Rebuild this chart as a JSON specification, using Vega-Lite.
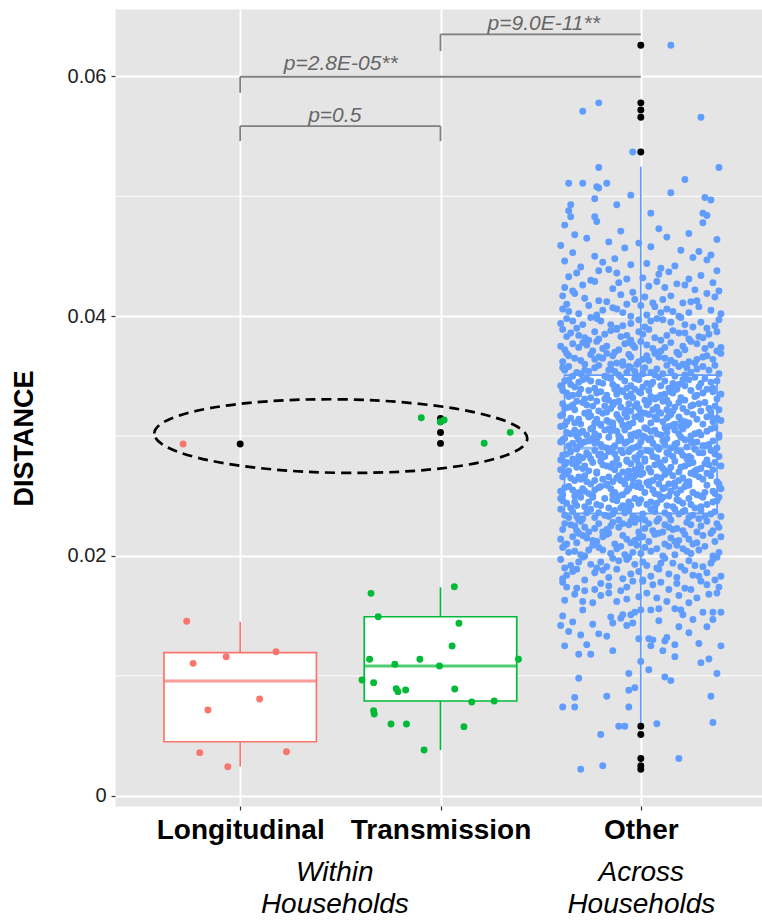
{
"$schema":"https://vega.github.io/schema/vega-lite/v6.json",
"width":647,"height":797,
"autosize":{"type":"none"},
"padding":{"left":115,"top":9,"right":0,"bottom":114},
"config":{"font":"Liberation Sans","view":{"fill":"#E5E5E5","stroke":"transparent"}},
"resolve":{"axis":{"x":"independent"}},
"datasets":{
"box":[{"g":"Longitudinal","x":1,"lo":0.00242,"q1":0.0045,"med":0.00957,"q3":0.01193,"hi":0.01451},{"g":"Transmission","x":2,"lo":0.00381,"q1":0.0079,"med":0.01082,"q3":0.01493,"hi":0.01738},{"g":"Other","x":3,"lo":0.00606,"q1":0.02356,"med":0.02898,"q3":0.03509,"hi":0.05247}],
"minor":[{"v":0.01},{"v":0.03},{"v":0.05}],
"out":[{"x":1,"y":0.02934},{"x":2,"y":0.03147},{"x":2,"y":0.0312},{"x":2,"y":0.03134},{"x":2,"y":0.0303},{"x":2,"y":0.02939},{"x":3,"y":0.0626},{"x":3,"y":0.0578},{"x":3,"y":0.0572},{"x":3,"y":0.0566},{"x":3,"y":0.0537},{"x":3,"y":0.0058},{"x":3,"y":0.0051},{"x":3,"y":0.0031},{"x":3,"y":0.0025},{"x":3,"y":0.0022}],
"wh":[{"g":"Longitudinal","x":0.733,"y":0.01455},{"g":"Longitudinal","x":0.765,"y":0.01104},{"g":"Longitudinal","x":0.93,"y":0.0116},{"g":"Longitudinal","x":1.179,"y":0.01201},{"g":"Longitudinal","x":1.097,"y":0.00807},{"g":"Longitudinal","x":0.839,"y":0.00715},{"g":"Longitudinal","x":0.798,"y":0.00359},{"g":"Longitudinal","x":1.231,"y":0.00367},{"g":"Longitudinal","x":0.938,"y":0.00242},{"g":"Longitudinal","x":0.715,"y":0.02934},
{"g":"Transmission","x":2.069,"y":0.01743},{"g":"Transmission","x":1.653,"y":0.01688},{"g":"Transmission","x":1.689,"y":0.01493},{"g":"Transmission","x":2.092,"y":0.01438},{"g":"Transmission","x":2.058,"y":0.01249},{"g":"Transmission","x":1.646,"y":0.01138},{"g":"Transmission","x":1.772,"y":0.01096},{"g":"Transmission","x":1.897,"y":0.01138},{"g":"Transmission","x":1.995,"y":0.01082},{"g":"Transmission","x":2.389,"y":0.01138},{"g":"Transmission","x":1.608,"y":0.00965},{"g":"Transmission","x":1.666,"y":0.00943},{"g":"Transmission","x":1.779,"y":0.00893},{"g":"Transmission","x":1.788,"y":0.00868},{"g":"Transmission","x":1.826,"y":0.00882},{"g":"Transmission","x":2.071,"y":0.0089},{"g":"Transmission","x":2.156,"y":0.00782},{"g":"Transmission","x":2.268,"y":0.0079},{"g":"Transmission","x":1.666,"y":0.00709},{"g":"Transmission","x":1.669,"y":0.00682},{"g":"Transmission","x":1.753,"y":0.00598},{"g":"Transmission","x":1.83,"y":0.00598},{"g":"Transmission","x":2.117,"y":0.00576},{"g":"Transmission","x":1.918,"y":0.00381},{"g":"Transmission","x":1.904,"y":0.03153},{"g":"Transmission","x":1.999,"y":0.0312},{"g":"Transmission","x":2.018,"y":0.03134},{"g":"Transmission","x":2.348,"y":0.03031},{"g":"Transmission","x":2.218,"y":0.0294}],
"oth":[
{"x":2.69,"y":0.0118},{"x":2.75,"y":0.0118},{"x":3.0,"y":0.0112},{"x":3.04,"y":0.0105},{"x":2.94,"y":0.0102},{"x":2.69,"y":0.0098},{"x":3.12,"y":0.0099},{"x":3.15,"y":0.0096},{"x":2.97,"y":0.009},{"x":2.94,"y":0.0088},{"x":2.83,"y":0.0083},{"x":2.67,"y":0.0082},{"x":2.61,"y":0.0074},{"x":2.67,"y":0.0074},{"x":2.94,"y":0.0074},{"x":3.35,"y":0.0083},{"x":3.38,"y":0.0102},{"x":3.34,"y":0.0114},{"x":3.3,"y":0.0111},{"x":2.89,"y":0.0058},{"x":2.92,"y":0.0058},{"x":3.08,"y":0.006},{"x":3.36,"y":0.0061},{"x":2.8,"y":0.0051},{"x":3.19,"y":0.0031},{"x":2.7,"y":0.0022},{"x":2.81,"y":0.0025},{"x":3.17,"y":0.0116},
{"x":2.62,"y":0.0125},{"x":2.73,"y":0.0126},{"x":2.86,"y":0.0121},{"x":3.05,"y":0.0125},{"x":3.11,"y":0.0121},{"x":3.17,"y":0.0126},{"x":3.29,"y":0.0127},{"x":3.4,"y":0.0125},
{"x":2.7,"y":0.0134},{"x":2.79,"y":0.0135},{"x":2.83,"y":0.0133},{"x":2.99,"y":0.0131},{"x":3.04,"y":0.0131},{"x":3.06,"y":0.013},{"x":3.12,"y":0.0129},{"x":3.13,"y":0.0132},{"x":2.64,"y":0.0137},{"x":3.24,"y":0.0136},
{"x":2.6,"y":0.0142},{"x":2.66,"y":0.0145},{"x":2.76,"y":0.0143},{"x":2.86,"y":0.0144},{"x":2.93,"y":0.0142},{"x":2.96,"y":0.0144},{"x":3.26,"y":0.0147},{"x":3.33,"y":0.0141},{"x":3.36,"y":0.0147},{"x":2.9,"y":0.0148},{"x":3.09,"y":0.0146},{"x":3.19,"y":0.0141},
{"x":2.61,"y":0.015},{"x":2.71,"y":0.0155},{"x":2.85,"y":0.0149},{"x":2.91,"y":0.0151},{"x":2.95,"y":0.0151},{"x":2.97,"y":0.0153},{"x":3.0,"y":0.0155},{"x":3.05,"y":0.0155},{"x":3.09,"y":0.0156},{"x":3.17,"y":0.0156},{"x":3.2,"y":0.0155},{"x":3.21,"y":0.0151},{"x":3.31,"y":0.0153},{"x":3.36,"y":0.0153},{"x":3.4,"y":0.0153},
{"x":2.71,"y":0.0162},{"x":2.88,"y":0.0162},{"x":3.08,"y":0.0165},{"x":2.62,"y":0.0163},{"x":2.67,"y":0.0168},{"x":2.76,"y":0.0161},{"x":2.8,"y":0.0167},{"x":2.84,"y":0.0169},{"x":2.93,"y":0.0164},{"x":2.99,"y":0.0166},{"x":3.03,"y":0.0169},{"x":3.13,"y":0.0162},{"x":3.19,"y":0.0167},{"x":3.24,"y":0.0161},{"x":3.28,"y":0.0165},{"x":3.34,"y":0.0168},{"x":3.38,"y":0.0169},
{"x":2.77,"y":0.0172},{"x":3.18,"y":0.0177},{"x":2.63,"y":0.0174},{"x":3.01,"y":0.0179},{"x":2.9,"y":0.0171},{"x":3.33,"y":0.0176},{"x":2.68,"y":0.0173},{"x":3.1,"y":0.0178},{"x":2.84,"y":0.0175},{"x":3.25,"y":0.0172},{"x":2.96,"y":0.0179},{"x":2.72,"y":0.0171},{"x":3.39,"y":0.0174},{"x":3.06,"y":0.0176},{"x":2.61,"y":0.0178},{"x":3.22,"y":0.0173},{"x":2.8,"y":0.0177},{"x":2.93,"y":0.0174},{"x":3.14,"y":0.0172},{"x":3.3,"y":0.0179},
{"x":2.63,"y":0.0184},{"x":2.91,"y":0.0181},{"x":3.22,"y":0.0188},{"x":2.77,"y":0.0186},{"x":3.05,"y":0.0183},{"x":3.37,"y":0.018},{"x":2.68,"y":0.0189},{"x":2.84,"y":0.0182},{"x":3.14,"y":0.0185},{"x":2.99,"y":0.0187},{"x":3.29,"y":0.0183},{"x":2.61,"y":0.0181},{"x":3.09,"y":0.0189},{"x":2.72,"y":0.018},{"x":3.33,"y":0.0186},{"x":2.95,"y":0.0185},{"x":3.18,"y":0.0182},{"x":2.81,"y":0.0188},{"x":3.01,"y":0.018},{"x":2.66,"y":0.0187},{"x":3.26,"y":0.0184},{"x":2.88,"y":0.0189},{"x":3.4,"y":0.0183},
{"x":3.03,"y":0.0192},{"x":2.69,"y":0.0195},{"x":3.31,"y":0.0191},{"x":2.86,"y":0.0198},{"x":3.16,"y":0.0194},{"x":2.62,"y":0.019},{"x":2.93,"y":0.0197},{"x":3.24,"y":0.0196},{"x":2.75,"y":0.0193},{"x":3.38,"y":0.0199},{"x":3.08,"y":0.019},{"x":2.8,"y":0.0195},{"x":3.12,"y":0.0198},{"x":2.65,"y":0.0192},{"x":2.97,"y":0.0193},{"x":3.35,"y":0.0194},{"x":2.71,"y":0.0199},{"x":3.2,"y":0.0191},{"x":2.89,"y":0.0196},{"x":3.01,"y":0.0195},{"x":2.6,"y":0.0197},{"x":3.27,"y":0.0192},{"x":2.78,"y":0.019},{"x":3.1,"y":0.0194},{"x":2.83,"y":0.0191},{"x":3.36,"y":0.0197},{"x":2.94,"y":0.0199},
{"x":2.64,"y":0.0203},{"x":3.17,"y":0.0201},{"x":2.88,"y":0.0206},{"x":3.32,"y":0.0208},{"x":2.72,"y":0.02},{"x":3.05,"y":0.0204},{"x":2.98,"y":0.0209},{"x":3.25,"y":0.0202},{"x":2.61,"y":0.0207},{"x":2.81,"y":0.0205},{"x":3.11,"y":0.02},{"x":3.39,"y":0.0203},{"x":2.76,"y":0.0209},{"x":2.92,"y":0.0201},{"x":3.21,"y":0.0206},{"x":2.67,"y":0.0204},{"x":3.02,"y":0.0207},{"x":3.29,"y":0.0205},{"x":2.85,"y":0.0202},{"x":3.14,"y":0.0208},{"x":2.7,"y":0.0201},{"x":2.96,"y":0.0203},{"x":3.36,"y":0.02},{"x":2.79,"y":0.0207},{"x":3.08,"y":0.0206},{"x":2.62,"y":0.0209},{"x":3.23,"y":0.0204},{"x":2.9,"y":0.0208},{"x":3.0,"y":0.0202},{"x":2.74,"y":0.0205},{"x":3.18,"y":0.0209},
{"x":2.97,"y":0.0213},{"x":2.66,"y":0.0216},{"x":3.28,"y":0.0211},{"x":2.83,"y":0.0218},{"x":3.12,"y":0.021},{"x":2.6,"y":0.0214},{"x":3.35,"y":0.0219},{"x":2.91,"y":0.0217},{"x":3.04,"y":0.0212},{"x":2.73,"y":0.0215},{"x":3.19,"y":0.0213},{"x":2.87,"y":0.021},{"x":3.4,"y":0.0216},{"x":2.69,"y":0.0219},{"x":3.07,"y":0.0218},{"x":3.24,"y":0.0214},{"x":2.78,"y":0.0212},{"x":2.95,"y":0.0211},{"x":3.31,"y":0.0217},{"x":2.63,"y":0.021},{"x":3.15,"y":0.0215},{"x":2.84,"y":0.0219},{"x":3.01,"y":0.0216},{"x":2.76,"y":0.0213},{"x":3.22,"y":0.0218},{"x":2.93,"y":0.0214},{"x":3.37,"y":0.0212},{"x":2.68,"y":0.0211},{"x":3.09,"y":0.0219},{"x":2.81,"y":0.0216},{"x":3.26,"y":0.021},{"x":2.99,"y":0.0215},{"x":2.71,"y":0.0217},{"x":3.17,"y":0.0212},
{"x":3.06,"y":0.0221},{"x":2.62,"y":0.0227},{"x":2.89,"y":0.0224},{"x":3.33,"y":0.0229},{"x":2.74,"y":0.022},{"x":3.18,"y":0.0223},{"x":2.97,"y":0.0228},{"x":2.67,"y":0.0225},{"x":3.25,"y":0.0226},{"x":2.83,"y":0.0222},{"x":3.11,"y":0.022},{"x":3.39,"y":0.0224},{"x":2.7,"y":0.0229},{"x":2.94,"y":0.0226},{"x":3.02,"y":0.0223},{"x":2.79,"y":0.0227},{"x":3.21,"y":0.0221},{"x":2.61,"y":0.0222},{"x":3.3,"y":0.0225},{"x":2.86,"y":0.0228},{"x":3.14,"y":0.0224},{"x":2.99,"y":0.022},{"x":2.65,"y":0.0226},{"x":3.08,"y":0.0229},{"x":3.36,"y":0.0221},{"x":2.77,"y":0.0223},{"x":2.91,"y":0.0227},{"x":3.23,"y":0.0228},{"x":2.72,"y":0.0224},{"x":3.16,"y":0.0222},{"x":2.85,"y":0.0225},{"x":3.04,"y":0.0227},{"x":2.68,"y":0.0221},{"x":3.28,"y":0.022},{"x":2.95,"y":0.0229},{"x":3.12,"y":0.0226},{"x":2.81,"y":0.022},{"x":3.38,"y":0.0227},
{"x":2.64,"y":0.0232},{"x":3.01,"y":0.0235},{"x":3.29,"y":0.0231},{"x":2.87,"y":0.0238},{"x":2.73,"y":0.0236},{"x":3.15,"y":0.023},{"x":2.96,"y":0.0233},{"x":3.37,"y":0.0237},{"x":2.6,"y":0.0239},{"x":3.09,"y":0.0231},{"x":2.82,"y":0.0234},{"x":3.22,"y":0.0238},{"x":2.69,"y":0.023},{"x":2.92,"y":0.0236},{"x":3.32,"y":0.0233},{"x":3.05,"y":0.0239},{"x":2.77,"y":0.0232},{"x":3.19,"y":0.0235},{"x":2.89,"y":0.023},{"x":2.66,"y":0.0237},{"x":3.26,"y":0.0234},{"x":3.12,"y":0.0236},{"x":2.99,"y":0.0231},{"x":2.75,"y":0.0239},{"x":3.35,"y":0.0235},{"x":2.84,"y":0.0233},{"x":3.07,"y":0.0237},{"x":2.62,"y":0.0234},{"x":3.24,"y":0.0232},{"x":2.94,"y":0.0238},{"x":3.17,"y":0.0239},{"x":2.71,"y":0.0231},{"x":3.02,"y":0.023},{"x":2.86,"y":0.0235},{"x":3.4,"y":0.0233},{"x":2.79,"y":0.0236},{"x":3.14,"y":0.0234},{"x":2.97,"y":0.0232},{"x":3.3,"y":0.0238},{"x":2.68,"y":0.0233},{"x":3.21,"y":0.0237},
{"x":2.61,"y":0.0246},{"x":2.93,"y":0.0241},{"x":3.24,"y":0.0248},{"x":2.78,"y":0.0243},{"x":3.07,"y":0.024},{"x":3.36,"y":0.0245},{"x":2.7,"y":0.0249},{"x":3.13,"y":0.0242},{"x":2.86,"y":0.0247},{"x":2.99,"y":0.0244},{"x":3.3,"y":0.0241},{"x":2.65,"y":0.024},{"x":3.19,"y":0.0246},{"x":2.82,"y":0.0248},{"x":3.03,"y":0.0243},{"x":2.74,"y":0.0245},{"x":3.39,"y":0.0249},{"x":2.91,"y":0.0242},{"x":3.1,"y":0.0247},{"x":2.63,"y":0.0244},{"x":3.27,"y":0.024},{"x":2.88,"y":0.0246},{"x":3.16,"y":0.0241},{"x":2.76,"y":0.0249},{"x":3.05,"y":0.0245},{"x":2.97,"y":0.0248},{"x":3.33,"y":0.0243},{"x":2.68,"y":0.0242},{"x":3.21,"y":0.0244},{"x":2.84,"y":0.024},{"x":3.0,"y":0.0247},{"x":2.72,"y":0.0241},{"x":3.11,"y":0.0249},{"x":2.94,"y":0.0245},{"x":3.38,"y":0.0246},{"x":2.8,"y":0.0242},{"x":3.25,"y":0.0243},{"x":2.6,"y":0.0248},{"x":3.08,"y":0.0244},{"x":2.9,"y":0.024},{"x":3.18,"y":0.0247},{"x":2.67,"y":0.0245},{"x":3.31,"y":0.0249},{"x":2.95,"y":0.0242},
{"x":3.02,"y":0.0253},{"x":2.64,"y":0.0258},{"x":3.28,"y":0.0251},{"x":2.85,"y":0.0256},{"x":3.14,"y":0.025},{"x":2.72,"y":0.0254},{"x":2.96,"y":0.0259},{"x":3.37,"y":0.0252},{"x":2.79,"y":0.0257},{"x":3.06,"y":0.0255},{"x":2.61,"y":0.0251},{"x":3.22,"y":0.0258},{"x":2.89,"y":0.025},{"x":3.11,"y":0.0256},{"x":2.69,"y":0.0253},{"x":3.33,"y":0.0259},{"x":2.93,"y":0.0254},{"x":3.18,"y":0.0252},{"x":2.76,"y":0.025},{"x":3.0,"y":0.0257},{"x":2.66,"y":0.0255},{"x":3.26,"y":0.0253},{"x":2.83,"y":0.0259},{"x":3.09,"y":0.0251},{"x":3.4,"y":0.0256},{"x":2.74,"y":0.0252},{"x":2.98,"y":0.0258},{"x":3.15,"y":0.0254},{"x":2.62,"y":0.0257},{"x":3.3,"y":0.025},{"x":2.87,"y":0.0253},{"x":3.04,"y":0.0259},{"x":2.71,"y":0.0256},{"x":3.2,"y":0.0255},{"x":2.91,"y":0.0251},{"x":3.36,"y":0.0254},{"x":2.8,"y":0.0258},{"x":3.12,"y":0.0257},{"x":2.67,"y":0.025},{"x":3.24,"y":0.0259},{"x":2.94,"y":0.0256},{"x":3.07,"y":0.0252},{"x":2.77,"y":0.0255},{"x":3.32,"y":0.0253},{"x":2.86,"y":0.0251},{"x":3.17,"y":0.0258},{"x":2.6,"y":0.0254},
{"x":2.73,"y":0.0262},{"x":3.1,"y":0.0265},{"x":2.92,"y":0.026},{"x":3.35,"y":0.0267},{"x":2.63,"y":0.0269},{"x":3.19,"y":0.0263},{"x":2.84,"y":0.0266},{"x":3.03,"y":0.0261},{"x":3.27,"y":0.0268},{"x":2.7,"y":0.0264},{"x":2.97,"y":0.0267},{"x":3.14,"y":0.026},{"x":2.78,"y":0.0269},{"x":3.38,"y":0.0262},{"x":2.88,"y":0.0265},{"x":3.06,"y":0.0263},{"x":2.61,"y":0.0266},{"x":3.23,"y":0.0261},{"x":2.94,"y":0.0268},{"x":2.75,"y":0.026},{"x":3.31,"y":0.0264},{"x":3.01,"y":0.0269},{"x":2.67,"y":0.0263},{"x":3.16,"y":0.0267},{"x":2.86,"y":0.0262},{"x":3.08,"y":0.0266},{"x":2.81,"y":0.0264},{"x":3.25,"y":0.0269},{"x":2.99,"y":0.0261},{"x":2.65,"y":0.0265},{"x":3.12,"y":0.0268},{"x":3.39,"y":0.026},{"x":2.9,"y":0.0263},{"x":2.72,"y":0.0267},{"x":3.21,"y":0.0265},{"x":3.04,"y":0.0262},{"x":2.83,"y":0.026},{"x":3.29,"y":0.0266},{"x":2.96,"y":0.0264},{"x":2.62,"y":0.0268},{"x":3.17,"y":0.0261},{"x":2.77,"y":0.0263},{"x":3.33,"y":0.0269},{"x":2.89,"y":0.0267},{"x":3.09,"y":0.026},{"x":2.69,"y":0.0266},{"x":3.24,"y":0.0262},{"x":2.93,"y":0.0265},{"x":3.0,"y":0.0268},
{"x":2.68,"y":0.0274},{"x":3.13,"y":0.0271},{"x":2.95,"y":0.0277},{"x":3.3,"y":0.0273},{"x":2.8,"y":0.0279},{"x":3.05,"y":0.027},{"x":2.62,"y":0.0276},{"x":3.22,"y":0.0275},{"x":2.87,"y":0.0272},{"x":3.37,"y":0.0278},{"x":2.74,"y":0.0271},{"x":3.0,"y":0.0274},{"x":3.17,"y":0.0279},{"x":2.91,"y":0.027},{"x":2.66,"y":0.0277},{"x":3.28,"y":0.0272},{"x":2.83,"y":0.0275},{"x":3.09,"y":0.0278},{"x":2.71,"y":0.0273},{"x":3.34,"y":0.0276},{"x":2.98,"y":0.0271},{"x":3.15,"y":0.0274},{"x":2.78,"y":0.027},{"x":3.02,"y":0.0279},{"x":2.6,"y":0.0272},{"x":3.24,"y":0.0277},{"x":2.89,"y":0.0276},{"x":3.11,"y":0.0273},{"x":2.76,"y":0.0278},{"x":3.4,"y":0.0275},{"x":2.93,"y":0.0279},{"x":3.19,"y":0.027},{"x":2.64,"y":0.0271},{"x":3.07,"y":0.0276},{"x":2.85,"y":0.0274},{"x":3.32,"y":0.0277},{"x":2.72,"y":0.0275},{"x":2.97,"y":0.0272},{"x":3.26,"y":0.0278},{"x":3.04,"y":0.0273},{"x":2.81,"y":0.0276},{"x":3.14,"y":0.027},{"x":2.69,"y":0.0279},{"x":3.2,"y":0.0274},{"x":2.94,"y":0.0271},{"x":3.36,"y":0.0272},{"x":2.86,"y":0.0277},{"x":3.1,"y":0.0275},{"x":2.63,"y":0.0278},{"x":2.99,"y":0.0276},{"x":3.27,"y":0.0271},
{"x":3.06,"y":0.0283},{"x":2.73,"y":0.0286},{"x":3.23,"y":0.0281},{"x":2.9,"y":0.0288},{"x":2.61,"y":0.0284},{"x":3.33,"y":0.028},{"x":2.84,"y":0.0287},{"x":3.14,"y":0.0285},{"x":2.97,"y":0.0282},{"x":2.68,"y":0.0289},{"x":3.29,"y":0.0286},{"x":3.02,"y":0.0281},{"x":2.79,"y":0.0284},{"x":3.18,"y":0.0288},{"x":2.93,"y":0.028},{"x":3.39,"y":0.0283},{"x":2.65,"y":0.0287},{"x":3.09,"y":0.0289},{"x":2.87,"y":0.0285},{"x":3.25,"y":0.0282},{"x":2.75,"y":0.0281},{"x":3.0,"y":0.0286},{"x":3.35,"y":0.0288},{"x":2.82,"y":0.0283},{"x":3.12,"y":0.028},{"x":2.63,"y":0.0285},{"x":2.95,"y":0.0289},{"x":3.21,"y":0.0284},{"x":2.71,"y":0.0282},{"x":3.05,"y":0.0287},{"x":3.31,"y":0.0286},{"x":2.88,"y":0.0281},{"x":3.16,"y":0.0283},{"x":2.77,"y":0.0288},{"x":2.99,"y":0.0284},{"x":2.6,"y":0.028},{"x":3.27,"y":0.0289},{"x":2.91,"y":0.0286},{"x":3.08,"y":0.0282},{"x":2.69,"y":0.0283},{"x":3.2,"y":0.0287},{"x":2.85,"y":0.0289},{"x":3.37,"y":0.0285},{"x":2.98,"y":0.028},{"x":2.74,"y":0.0284},{"x":3.13,"y":0.0286},{"x":2.66,"y":0.0281},{"x":3.03,"y":0.0288},{"x":3.24,"y":0.0283},{"x":2.8,"y":0.0285},{"x":2.94,"y":0.0287},
{"x":2.64,"y":0.0292},{"x":3.04,"y":0.0297},{"x":3.26,"y":0.0294},{"x":2.86,"y":0.029},{"x":3.13,"y":0.0298},{"x":2.72,"y":0.0295},{"x":2.98,"y":0.0291},{"x":3.36,"y":0.0296},{"x":2.8,"y":0.0293},{"x":3.2,"y":0.0299},{"x":2.61,"y":0.0297},{"x":2.92,"y":0.0294},{"x":3.09,"y":0.029},{"x":3.31,"y":0.0292},{"x":2.76,"y":0.0298},{"x":3.0,"y":0.0295},{"x":2.68,"y":0.0291},{"x":3.17,"y":0.0293},{"x":2.89,"y":0.0296},{"x":3.39,"y":0.0299},{"x":2.83,"y":0.029},{"x":3.06,"y":0.0294},{"x":2.95,"y":0.0297},{"x":3.23,"y":0.0291},{"x":2.7,"y":0.0293},{"x":3.11,"y":0.0296},{"x":2.62,"y":0.0298},{"x":3.28,"y":0.0295},{"x":2.87,"y":0.0292},{"x":3.02,"y":0.0299},{"x":2.78,"y":0.0297},{"x":3.15,"y":0.029},{"x":2.93,"y":0.0295},{"x":3.34,"y":0.0293},{"x":2.66,"y":0.0294},{"x":3.08,"y":0.0291},{"x":2.84,"y":0.0299},{"x":3.22,"y":0.0297},{"x":2.99,"y":0.0292},{"x":2.74,"y":0.0296},{"x":3.18,"y":0.0294},{"x":3.38,"y":0.029},{"x":2.9,"y":0.0298},{"x":2.6,"y":0.0295},{"x":3.12,"y":0.0293},{"x":2.81,"y":0.0291},{"x":3.25,"y":0.0296},{"x":2.96,"y":0.029},{"x":3.05,"y":0.0298},{"x":2.69,"y":0.0297},{"x":3.32,"y":0.0292},{"x":2.77,"y":0.0294},
{"x":3.1,"y":0.0301},{"x":2.67,"y":0.0305},{"x":2.94,"y":0.0308},{"x":3.29,"y":0.0303},{"x":2.79,"y":0.03},{"x":3.03,"y":0.0306},{"x":2.62,"y":0.0309},{"x":3.19,"y":0.0302},{"x":2.88,"y":0.0304},{"x":3.37,"y":0.0307},{"x":2.73,"y":0.0301},{"x":2.99,"y":0.0303},{"x":3.14,"y":0.0308},{"x":2.84,"y":0.0306},{"x":3.25,"y":0.03},{"x":2.65,"y":0.0302},{"x":3.07,"y":0.0305},{"x":2.91,"y":0.0309},{"x":3.33,"y":0.0304},{"x":2.76,"y":0.0307},{"x":3.01,"y":0.03},{"x":3.21,"y":0.0306},{"x":2.7,"y":0.0303},{"x":2.97,"y":0.0302},{"x":3.16,"y":0.0309},{"x":2.82,"y":0.0305},{"x":3.39,"y":0.0301},{"x":2.6,"y":0.0308},{"x":3.05,"y":0.0304},{"x":2.89,"y":0.03},{"x":3.27,"y":0.0302},{"x":2.75,"y":0.0306},{"x":3.12,"y":0.0307},{"x":2.95,"y":0.0301},{"x":2.63,"y":0.0303},{"x":3.23,"y":0.0309},{"x":2.86,"y":0.0308},{"x":3.08,"y":0.0302},{"x":2.71,"y":0.0304},{"x":3.35,"y":0.0306},{"x":2.98,"y":0.03},{"x":3.17,"y":0.0305},{"x":2.8,"y":0.0309},{"x":3.02,"y":0.0307},{"x":2.68,"y":0.03},{"x":3.3,"y":0.0301},{"x":2.92,"y":0.0305},{"x":3.13,"y":0.0303},{"x":2.77,"y":0.0302},{"x":3.2,"y":0.0308},{"x":2.85,"y":0.0304},
{"x":2.63,"y":0.0312},{"x":2.97,"y":0.0316},{"x":3.24,"y":0.0311},{"x":2.81,"y":0.0319},{"x":3.08,"y":0.0314},{"x":2.7,"y":0.031},{"x":3.35,"y":0.0317},{"x":2.9,"y":0.0313},{"x":3.15,"y":0.0318},{"x":2.65,"y":0.0315},{"x":3.02,"y":0.0319},{"x":2.86,"y":0.0311},{"x":3.28,"y":0.0314},{"x":2.75,"y":0.0317},{"x":3.11,"y":0.0312},{"x":2.94,"y":0.031},{"x":3.38,"y":0.0315},{"x":2.61,"y":0.0318},{"x":3.19,"y":0.0316},{"x":2.83,"y":0.0313},{"x":3.05,"y":0.0311},{"x":2.72,"y":0.0319},{"x":3.31,"y":0.031},{"x":2.99,"y":0.0317},{"x":3.13,"y":0.0315},{"x":2.78,"y":0.0314},{"x":3.22,"y":0.0312},{"x":2.88,"y":0.0318},{"x":2.67,"y":0.0311},{"x":3.07,"y":0.0316},{"x":3.4,"y":0.0313},{"x":2.92,"y":0.0319},{"x":3.17,"y":0.031},{"x":2.74,"y":0.0316},{"x":3.0,"y":0.0314},{"x":3.26,"y":0.0318},{"x":2.84,"y":0.0312},{"x":2.6,"y":0.0317},{"x":3.1,"y":0.0319},{"x":2.96,"y":0.0311},{"x":3.33,"y":0.0316},{"x":2.8,"y":0.031},{"x":3.2,"y":0.0313},{"x":2.69,"y":0.0314},{"x":3.04,"y":0.0318},{"x":2.89,"y":0.0315},{"x":3.36,"y":0.0312},{"x":2.77,"y":0.0311},{"x":3.14,"y":0.0317},{"x":2.93,"y":0.0316},
{"x":3.06,"y":0.0322},{"x":2.66,"y":0.0326},{"x":3.3,"y":0.0321},{"x":2.87,"y":0.0328},{"x":3.17,"y":0.0324},{"x":2.74,"y":0.032},{"x":2.98,"y":0.0327},{"x":3.37,"y":0.0325},{"x":2.62,"y":0.0323},{"x":3.11,"y":0.0329},{"x":2.82,"y":0.0325},{"x":3.23,"y":0.032},{"x":2.93,"y":0.0322},{"x":2.71,"y":0.0328},{"x":3.03,"y":0.0326},{"x":3.34,"y":0.0323},{"x":2.79,"y":0.0321},{"x":3.14,"y":0.0327},{"x":2.89,"y":0.0329},{"x":2.64,"y":0.0324},{"x":3.26,"y":0.0326},{"x":3.0,"y":0.032},{"x":2.85,"y":0.0323},{"x":3.19,"y":0.0328},{"x":2.76,"y":0.0325},{"x":3.39,"y":0.0322},{"x":2.95,"y":0.0321},{"x":3.08,"y":0.0324},{"x":2.68,"y":0.0329},{"x":3.29,"y":0.0327},{"x":2.83,"y":0.032},{"x":3.13,"y":0.0322},{"x":2.61,"y":0.0327},{"x":2.97,"y":0.0325},{"x":3.21,"y":0.0323},{"x":2.73,"y":0.0326},{"x":3.04,"y":0.0328},{"x":3.35,"y":0.032},{"x":2.9,"y":0.0324},{"x":3.16,"y":0.0321},{"x":2.78,"y":0.0329},{"x":2.99,"y":0.0323},{"x":3.25,"y":0.0325},{"x":2.67,"y":0.0322},{"x":3.09,"y":0.032},{"x":2.86,"y":0.0326},{"x":3.32,"y":0.0328},{"x":2.94,"y":0.0327},
{"x":2.72,"y":0.0331},{"x":3.12,"y":0.0335},{"x":2.9,"y":0.0338},{"x":3.27,"y":0.0333},{"x":2.63,"y":0.0336},{"x":3.02,"y":0.033},{"x":2.83,"y":0.0334},{"x":3.36,"y":0.0337},{"x":2.96,"y":0.0332},{"x":3.18,"y":0.0339},{"x":2.69,"y":0.0335},{"x":3.07,"y":0.0331},{"x":2.8,"y":0.0337},{"x":3.31,"y":0.0336},{"x":2.93,"y":0.0333},{"x":3.22,"y":0.033},{"x":2.61,"y":0.0338},{"x":3.1,"y":0.0334},{"x":2.87,"y":0.0339},{"x":3.0,"y":0.0336},{"x":2.75,"y":0.0332},{"x":3.38,"y":0.0331},{"x":3.15,"y":0.0337},{"x":2.66,"y":0.0334},{"x":2.95,"y":0.0335},{"x":3.25,"y":0.0338},{"x":2.84,"y":0.033},{"x":3.05,"y":0.0333},{"x":2.78,"y":0.0336},{"x":3.33,"y":0.0339},{"x":2.99,"y":0.0337},{"x":3.2,"y":0.0332},{"x":2.7,"y":0.0339},{"x":3.13,"y":0.033},{"x":2.88,"y":0.0335},{"x":2.64,"y":0.0333},{"x":3.28,"y":0.0334},{"x":3.04,"y":0.0338},{"x":2.82,"y":0.0331},{"x":3.4,"y":0.0335},{"x":2.91,"y":0.0337},{"x":3.16,"y":0.0336},{"x":2.74,"y":0.0338},{"x":3.08,"y":0.0332},{"x":2.97,"y":0.0339},
{"x":3.03,"y":0.0344},{"x":2.67,"y":0.0341},{"x":3.24,"y":0.0347},{"x":2.86,"y":0.0343},{"x":3.14,"y":0.034},{"x":2.73,"y":0.0348},{"x":3.35,"y":0.0345},{"x":2.95,"y":0.0342},{"x":2.62,"y":0.0346},{"x":3.09,"y":0.0349},{"x":2.81,"y":0.0344},{"x":3.29,"y":0.0341},{"x":2.99,"y":0.0347},{"x":3.19,"y":0.0343},{"x":2.77,"y":0.034},{"x":2.9,"y":0.0349},{"x":3.38,"y":0.0346},{"x":2.65,"y":0.0343},{"x":3.06,"y":0.0345},{"x":2.85,"y":0.0348},{"x":3.22,"y":0.0342},{"x":2.71,"y":0.0347},{"x":3.01,"y":0.0341},{"x":3.32,"y":0.0348},{"x":2.93,"y":0.034},{"x":3.12,"y":0.0346},{"x":2.79,"y":0.0345},{"x":2.6,"y":0.0342},{"x":3.27,"y":0.0349},{"x":2.88,"y":0.0341},{"x":3.16,"y":0.0344},{"x":2.69,"y":0.0345},{"x":3.05,"y":0.0343},{"x":3.36,"y":0.034},{"x":2.97,"y":0.0348},{"x":2.75,"y":0.0346},{"x":3.21,"y":0.0347},{"x":2.83,"y":0.0349},{"x":3.1,"y":0.0342},{"x":2.64,"y":0.0347},{"x":3.3,"y":0.0344},{"x":2.92,"y":0.0346},{"x":3.17,"y":0.0341},
{"x":2.7,"y":0.0352},{"x":3.08,"y":0.0356},{"x":2.89,"y":0.0351},{"x":3.31,"y":0.0358},{"x":2.62,"y":0.0355},{"x":3.17,"y":0.035},{"x":2.97,"y":0.0354},{"x":2.79,"y":0.0359},{"x":3.25,"y":0.0353},{"x":3.02,"y":0.0357},{"x":2.66,"y":0.035},{"x":3.39,"y":0.0352},{"x":2.85,"y":0.0356},{"x":3.13,"y":0.0359},{"x":2.74,"y":0.0354},{"x":2.94,"y":0.0358},{"x":3.22,"y":0.0351},{"x":3.05,"y":0.0353},{"x":2.61,"y":0.0357},{"x":2.82,"y":0.035},{"x":3.34,"y":0.0355},{"x":3.11,"y":0.0352},{"x":2.91,"y":0.0359},{"x":2.77,"y":0.0357},{"x":3.28,"y":0.0356},{"x":2.99,"y":0.035},{"x":2.68,"y":0.0353},{"x":3.19,"y":0.0358},{"x":2.87,"y":0.0354},{"x":3.07,"y":0.0351},{"x":2.72,"y":0.0355},{"x":3.37,"y":0.0359},{"x":2.95,"y":0.0357},{"x":3.15,"y":0.0354},{"x":2.64,"y":0.0358},{"x":3.01,"y":0.0352},{"x":2.84,"y":0.0355},{"x":3.23,"y":0.0357},{"x":2.93,"y":0.0353},
{"x":3.04,"y":0.0363},{"x":2.64,"y":0.0367},{"x":3.27,"y":0.0361},{"x":2.83,"y":0.0369},{"x":3.12,"y":0.0365},{"x":2.72,"y":0.036},{"x":2.95,"y":0.0366},{"x":3.36,"y":0.0364},{"x":2.61,"y":0.0362},{"x":3.19,"y":0.0368},{"x":2.88,"y":0.0361},{"x":3.07,"y":0.0369},{"x":2.77,"y":0.0364},{"x":3.31,"y":0.0366},{"x":2.98,"y":0.036},{"x":2.67,"y":0.0365},{"x":3.15,"y":0.0363},{"x":2.86,"y":0.0367},{"x":3.24,"y":0.0362},{"x":3.4,"y":0.0369},{"x":2.75,"y":0.0368},{"x":3.01,"y":0.0364},{"x":2.91,"y":0.0362},{"x":3.21,"y":0.036},{"x":2.63,"y":0.0369},{"x":3.09,"y":0.0366},{"x":2.81,"y":0.0365},{"x":3.33,"y":0.0367},{"x":2.94,"y":0.0368},{"x":2.7,"y":0.0363},{"x":3.17,"y":0.0361},{"x":3.03,"y":0.0367},{"x":2.85,"y":0.036},{"x":3.28,"y":0.0364},{"x":2.79,"y":0.0366},{"x":2.99,"y":0.0362},
{"x":2.69,"y":0.0374},{"x":3.1,"y":0.0371},{"x":2.92,"y":0.0377},{"x":3.32,"y":0.0373},{"x":2.78,"y":0.0379},{"x":3.03,"y":0.0376},{"x":2.62,"y":0.0372},{"x":3.21,"y":0.0375},{"x":2.87,"y":0.037},{"x":3.15,"y":0.0378},{"x":2.73,"y":0.0376},{"x":3.38,"y":0.0371},{"x":2.97,"y":0.0374},{"x":3.25,"y":0.0379},{"x":2.66,"y":0.0377},{"x":3.06,"y":0.0373},{"x":2.83,"y":0.0375},{"x":3.18,"y":0.037},{"x":2.94,"y":0.0378},{"x":3.35,"y":0.0376},{"x":2.76,"y":0.0371},{"x":3.0,"y":0.0379},{"x":2.6,"y":0.0375},{"x":3.12,"y":0.0374},{"x":2.89,"y":0.0372},{"x":3.28,"y":0.0377},{"x":2.71,"y":0.0378},{"x":3.08,"y":0.037},{"x":2.81,"y":0.0373},{"x":3.22,"y":0.0372},{"x":2.96,"y":0.0376},{"x":3.4,"y":0.0374},
{"x":3.07,"y":0.0382},{"x":2.65,"y":0.0386},{"x":3.24,"y":0.0381},{"x":2.85,"y":0.0388},{"x":3.13,"y":0.0384},{"x":2.74,"y":0.038},{"x":2.99,"y":0.0387},{"x":3.34,"y":0.0385},{"x":2.61,"y":0.0389},{"x":2.9,"y":0.0383},{"x":3.19,"y":0.0386},{"x":2.79,"y":0.0381},{"x":3.04,"y":0.0389},{"x":3.29,"y":0.0383},{"x":2.69,"y":0.0384},{"x":2.95,"y":0.038},{"x":3.16,"y":0.0388},{"x":2.82,"y":0.0385},{"x":3.38,"y":0.0387},{"x":2.72,"y":0.0382},{"x":3.1,"y":0.038},{"x":2.88,"y":0.0389},{"x":3.22,"y":0.0386},{"x":2.63,"y":0.0383},{"x":3.01,"y":0.0385},{"x":2.77,"y":0.0387},{"x":3.31,"y":0.0382},{"x":2.93,"y":0.0384},
{"x":2.71,"y":0.0393},{"x":3.11,"y":0.0397},{"x":2.88,"y":0.039},{"x":3.3,"y":0.0395},{"x":2.63,"y":0.0398},{"x":3.02,"y":0.0391},{"x":2.8,"y":0.0396},{"x":3.2,"y":0.0399},{"x":2.95,"y":0.0394},{"x":3.37,"y":0.0392},{"x":2.68,"y":0.039},{"x":3.08,"y":0.0398},{"x":2.85,"y":0.0393},{"x":3.26,"y":0.0391},{"x":2.75,"y":0.0399},{"x":2.99,"y":0.0397},{"x":3.15,"y":0.0395},{"x":2.6,"y":0.0394},{"x":3.33,"y":0.039},{"x":2.91,"y":0.0392},{"x":3.05,"y":0.0396},{"x":2.78,"y":0.0398},{"x":3.22,"y":0.0393},{"x":2.66,"y":0.0396},{"x":3.39,"y":0.0397},
{"x":2.64,"y":0.0404},{"x":3.03,"y":0.0401},{"x":2.86,"y":0.0407},{"x":3.24,"y":0.0403},{"x":2.74,"y":0.0409},{"x":3.13,"y":0.0406},{"x":2.95,"y":0.04},{"x":3.35,"y":0.0405},{"x":2.69,"y":0.0402},{"x":3.07,"y":0.0408},{"x":2.81,"y":0.0405},{"x":3.19,"y":0.04},{"x":2.91,"y":0.0403},{"x":3.29,"y":0.0408},{"x":2.61,"y":0.0406},{"x":3.0,"y":0.0409},{"x":2.78,"y":0.0401},{"x":3.16,"y":0.0404},{"x":3.4,"y":0.0402},{"x":2.88,"y":0.0406},{"x":3.1,"y":0.0403},
{"x":2.72,"y":0.0415},{"x":3.06,"y":0.0411},{"x":2.9,"y":0.0418},{"x":3.28,"y":0.0413},{"x":2.63,"y":0.041},{"x":3.15,"y":0.0417},{"x":2.83,"y":0.0412},{"x":3.37,"y":0.0416},{"x":2.97,"y":0.0414},{"x":2.67,"y":0.0419},{"x":3.21,"y":0.0411},{"x":3.02,"y":0.0416},{"x":2.79,"y":0.0413},{"x":3.33,"y":0.0419},{"x":2.93,"y":0.041},{"x":3.11,"y":0.0414},{"x":2.61,"y":0.0417},{"x":3.25,"y":0.0412},
{"x":2.86,"y":0.0423},{"x":3.18,"y":0.0427},{"x":2.66,"y":0.0421},{"x":3.04,"y":0.0425},{"x":3.36,"y":0.0428},{"x":2.77,"y":0.0429},{"x":2.96,"y":0.042},{"x":3.27,"y":0.0422},{"x":2.71,"y":0.0426},{"x":3.12,"y":0.0424},{"x":2.89,"y":0.0428},{"x":3.39,"y":0.0421},{"x":2.62,"y":0.0424},{"x":3.08,"y":0.0429},{"x":3.22,"y":0.0426},
{"x":2.68,"y":0.0436},{"x":3.01,"y":0.0432},{"x":2.84,"y":0.0439},{"x":3.3,"y":0.0434},{"x":2.93,"y":0.0431},{"x":3.14,"y":0.0437},{"x":2.75,"y":0.043},{"x":3.38,"y":0.0438},{"x":2.64,"y":0.0433},{"x":3.09,"y":0.0435},{"x":2.88,"y":0.0436},{"x":3.24,"y":0.0431},{"x":2.79,"y":0.0438},
{"x":3.03,"y":0.0444},{"x":2.7,"y":0.0441},{"x":3.33,"y":0.0447},{"x":2.87,"y":0.0448},{"x":3.17,"y":0.0442},{"x":2.62,"y":0.0446},{"x":2.95,"y":0.0443},{"x":3.26,"y":0.0449},{"x":2.81,"y":0.0445},{"x":3.1,"y":0.044},
{"x":2.66,"y":0.0453},{"x":3.35,"y":0.0451},{"x":2.92,"y":0.0457},{"x":3.2,"y":0.0455},{"x":2.77,"y":0.045},{"x":3.05,"y":0.0458},{"x":2.6,"y":0.0459},{"x":3.29,"y":0.0454},
{"x":2.84,"y":0.0462},{"x":3.13,"y":0.0466},{"x":2.67,"y":0.0468},{"x":3.38,"y":0.0464},{"x":2.99,"y":0.0461},{"x":3.24,"y":0.0469},{"x":2.73,"y":0.0465},
{"x":3.09,"y":0.0473},{"x":2.62,"y":0.0476},{"x":2.9,"y":0.0471},{"x":3.31,"y":0.0478},{"x":2.78,"y":0.0479},
{"x":2.65,"y":0.0483},{"x":2.77,"y":0.0483},{"x":3.05,"y":0.0486},{"x":3.31,"y":0.0486},{"x":3.33,"y":0.0484},{"x":2.64,"y":0.0488},
{"x":2.65,"y":0.0493},{"x":2.88,"y":0.0493},{"x":3.32,"y":0.0499},{"x":3.35,"y":0.0497},{"x":2.77,"y":0.0498},
{"x":2.78,"y":0.0508},{"x":2.79,"y":0.0507},{"x":3.15,"y":0.0503},{"x":2.95,"y":0.0501},
{"x":2.64,"y":0.0511},{"x":2.71,"y":0.0511},{"x":2.83,"y":0.0511},{"x":3.22,"y":0.0514},
{"x":2.79,"y":0.0524},{"x":3.39,"y":0.0524},
{"x":3.15,"y":0.0626},{"x":2.79,"y":0.0578},{"x":2.71,"y":0.0571},{"x":3.3,"y":0.0566},{"x":2.96,"y":0.0537}
],
"br":[{"x":1,"x2":2,"y":0.05586,"y2":0.05586},{"x":1,"x2":1,"y":0.05586,"y2":0.05461},{"x":2,"x2":2,"y":0.05586,"y2":0.05461},{"x":1,"x2":3,"y":0.05998,"y2":0.05998},{"x":1,"x2":1,"y":0.05998,"y2":0.05864},{"x":2,"x2":3,"y":0.06351,"y2":0.06351},{"x":2,"x2":2,"y":0.06351,"y2":0.06212}],
"pl":[{"x":1.472,"y":0.0562,"t":"p=0.5"},{"x":1.502,"y":0.06054,"t":"p=2.8E-05**"},{"x":2.515,"y":0.06387,"t":"p=9.0E-11**"}],
"ell":[{"x":1.502,"y":0.03}]
},
"layer":[
{"data":{"name":"minor"},"mark":{"type":"rule","color":"#FFFFFF","strokeWidth":1},"encoding":{"y":{"field":"v","type":"quantitative","scale":{"domain":[-0.00086,0.06563],"nice":false,"zero":false},
  "axis":{"orient":"left","values":[0,0.02,0.04,0.06],"format":".2~f","labelFontSize":20,"labelColor":"#222222","labelPadding":5,"tickSize":4,"tickColor":"#333333","tickWidth":1.2,"domain":false,"grid":true,"gridColor":"#FFFFFF","gridWidth":2,"title":"DISTANCE","titleFontSize":27,"titleFontWeight":"bold","titleColor":"#000000","titleAngle":270,"titleX":-91,"titleY":429,"titleAlign":"center","titleBaseline":"middle","labelFlush":false}}}},
{"data":{"name":"box"},"mark":{"type":"rule","strokeWidth":1.7},"encoding":{
 "x":{"field":"x","type":"quantitative","scale":{"domain":[0.4,3.58],"nice":false,"zero":false},"axis":null},
 "y":{"field":"lo","type":"quantitative","scale":{"domain":[-0.00086,0.06563],"nice":false,"zero":false}},
 "y2":{"field":"hi"},
 "color":{"field":"g","type":"nominal","scale":{"domain":["Longitudinal","Transmission","Other"],"range":["#F8766D","#00BA38","#619CFF"]},"legend":null}}},
{"data":{"name":"box"},"mark":{"type":"bar","width":152.5,"fill":"#FFFFFF","strokeWidth":1.7,"orient":"vertical"},"encoding":{
 "x":{"field":"x","type":"quantitative","scale":{"domain":[0.4,3.58],"nice":false,"zero":false},
  "axis":{"orient":"bottom","values":[1,2,3],"labelExpr":"datum.value==1?'Longitudinal':datum.value==2?'Transmission':'Other'","labelFontWeight":"bold","labelFontSize":28,"labelColor":"#000000","labelPadding":6,"labelLimit":0,"tickSize":4,"tickColor":"#333333","tickWidth":1.2,"domain":false,"grid":true,"gridColor":"#FFFFFF","gridWidth":2,"title":null,"labelFlush":false,"labelOverlap":false}},
 "y":{"field":"q1","type":"quantitative","scale":{"domain":[-0.00086,0.06563],"nice":false,"zero":false}},
 "y2":{"field":"q3"},
 "stroke":{"field":"g","type":"nominal","scale":{"domain":["Longitudinal","Transmission","Other"],"range":["#F8766D","#00BA38","#619CFF"]},"legend":null}}},
{"data":{"name":"box"},"mark":{"type":"tick","orient":"horizontal","size":152.5,"thickness":3},"encoding":{
 "x":{"field":"x","type":"quantitative","scale":{"domain":[0.4,3.58],"nice":false,"zero":false},"axis":null},
 "y":{"field":"med","type":"quantitative","scale":{"domain":[-0.00086,0.06563],"nice":false,"zero":false}},
 "color":{"field":"g","type":"nominal","scale":{"domain":["Longitudinal","Transmission","Other"],"range":["#F8766D","#00BA38","#619CFF"]},"legend":null}}},
{"data":{"name":"out"},"mark":{"type":"circle","size":48,"color":"#000000","opacity":1},"encoding":{
 "x":{"field":"x","type":"quantitative","scale":{"domain":[0.4,3.58],"nice":false,"zero":false},"axis":null},
 "y":{"field":"y","type":"quantitative","scale":{"domain":[-0.00086,0.06563],"nice":false,"zero":false}}}},
{"data":{"name":"wh"},"mark":{"type":"circle","size":48,"opacity":1},"encoding":{
 "x":{"field":"x","type":"quantitative","scale":{"domain":[0.4,3.58],"nice":false,"zero":false},"axis":null},
 "y":{"field":"y","type":"quantitative","scale":{"domain":[-0.00086,0.06563],"nice":false,"zero":false}},
 "color":{"field":"g","type":"nominal","scale":{"domain":["Longitudinal","Transmission","Other"],"range":["#F8766D","#00BA38","#619CFF"]},"legend":null}}},
{"data":{"name":"oth"},"mark":{"type":"circle","size":48,"opacity":1,"color":"#619CFF"},"encoding":{
 "x":{"field":"x","type":"quantitative","scale":{"domain":[0.4,3.58],"nice":false,"zero":false},"axis":null},
 "y":{"field":"y","type":"quantitative","scale":{"domain":[-0.00086,0.06563],"nice":false,"zero":false}}}},
{"data":{"name":"ell"},"mark":{"type":"point","shape":"M -1 0 A 1 0.197 0 1 1 1 0 A 1 0.197 0 1 1 -1 0 Z","size":139129,"filled":false,"stroke":"#000000","strokeWidth":2.7,"strokeDash":[10,6],"angle":0.8,"opacity":1},"encoding":{
 "x":{"field":"x","type":"quantitative","scale":{"domain":[0.4,3.58],"nice":false,"zero":false},
  "axis":{"orient":"bottom","values":[1.47,3],"labelExpr":"datum.value<2?['Within','Households']:['Across','Households']","labelFontStyle":"italic","labelFontSize":28,"labelLineHeight":32,"labelColor":"#000000","labelPadding":52,"labelLimit":0,"ticks":false,"tickSize":0,"domain":false,"grid":false,"title":null,"labelFlush":false,"labelOverlap":false}},
 "y":{"field":"y","type":"quantitative","scale":{"domain":[-0.00086,0.06563],"nice":false,"zero":false}}}},
{"data":{"name":"br"},"mark":{"type":"rule","color":"#7F7F7F","strokeWidth":1.8},"encoding":{
 "x":{"field":"x","type":"quantitative","scale":{"domain":[0.4,3.58],"nice":false,"zero":false},"axis":null},
 "x2":{"field":"x2"},
 "y":{"field":"y","type":"quantitative","scale":{"domain":[-0.00086,0.06563],"nice":false,"zero":false}},
 "y2":{"field":"y2"}}},
{"data":{"name":"pl"},"mark":{"type":"text","fontStyle":"italic","fontSize":21,"color":"#666666","align":"center","baseline":"alphabetic"},"encoding":{
 "x":{"field":"x","type":"quantitative","scale":{"domain":[0.4,3.58],"nice":false,"zero":false},"axis":null},
 "y":{"field":"y","type":"quantitative","scale":{"domain":[-0.00086,0.06563],"nice":false,"zero":false}},
 "text":{"field":"t"}}}
]
}
